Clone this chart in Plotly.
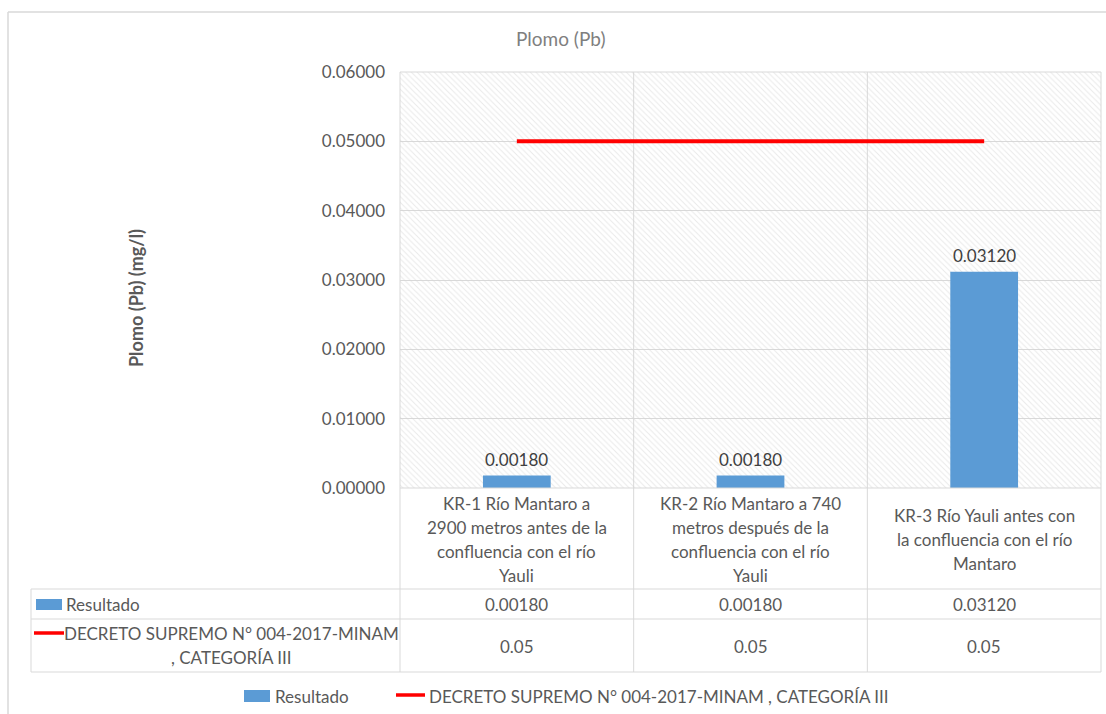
import plotly.graph_objects as go

# --- data -------------------------------------------------------------
categorias = [
    "KR-1 Río Mantaro a<br>2900 metros antes de la<br>confluencia con el río<br>Yauli",
    "KR-2 Río Mantaro a 740<br>metros después de la<br>confluencia con el río<br>Yauli",
    "KR-3 Río Yauli antes con<br>la confluencia con el río<br>Mantaro",
]
resultado = [0.00180, 0.00180, 0.03120]
limite_eca = [0.05, 0.05, 0.05]
serie_resultado = "Resultado"
serie_limite = "DECRETO SUPREMO N° 004-2017-MINAM , CATEGORÍA III"
serie_limite_tabla = "DECRETO SUPREMO N° 004-2017-MINAM<br>, CATEGORÍA III"
titulo = "Plomo (Pb)"
titulo_y = "Plomo (Pb) (mg/l)"
y_ticks = [0.0, 0.01, 0.02, 0.03, 0.04, 0.05, 0.06]

# --- layout constants (pixels) ---------------------------------------
W, H = 1106, 714
PL, PR, PT, PB = 400, 1101, 72, 488   # plot area edges
FONT = "Lato"
GRAY = "#595959"
GRID = "#d9d9d9"
BLUE = "#5b9bd5"
RED = "#ff0000"
FS = 17
LINE_H = 24

def px(x):
    return (x - PL) / (PR - PL)

def py(y):
    return (PB - y) / (PB - PT)

idx = list(range(len(categorias)))
y_min, y_max = y_ticks[0], y_ticks[-1]
n = len(categorias)

fig = go.Figure()

# hatched plot-area background (a full-width bar drawn first)
fig.add_trace(go.Bar(
    x=[(n - 1) / 2], y=[y_max], width=n, base=y_min,
    marker=dict(color="rgba(0,0,0,0)", line=dict(width=0),
                pattern=dict(shape="\\", fgcolor="#d4d4d4",
                             bgcolor="rgba(0,0,0,0)", size=4, solidity=0.25)),
    hoverinfo="skip", showlegend=False,
))

fig.add_trace(go.Bar(
    x=idx, y=resultado, name=serie_resultado, width=0.29,
    marker=dict(color=BLUE, line=dict(width=0)), showlegend=False,
))
fig.add_trace(go.Scatter(
    x=idx, y=limite_eca, name=serie_limite, mode="lines",
    line=dict(color=RED, width=4), showlegend=False,
))

shapes = []
ann = []

def text_lines(x, yc, txt, xref="paper", xanchor="center", size=FS, color=GRAY):
    lines = txt.split("<br>")
    for j, t in enumerate(lines):
        yy = yc + (j - (len(lines) - 1) / 2) * LINE_H
        ann.append(dict(x=x, y=py(yy), xref=xref, yref="paper", text=t,
                        showarrow=False, xanchor=xanchor, yanchor="middle",
                        font=dict(family=FONT, size=size, color=color)))

# data labels above bars
for i, v in zip(idx, resultado):
    ann.append(dict(x=i, y=v, xref="x", yref="y", text=f"{v:.5f}",
                    showarrow=False, yshift=16, xanchor="center",
                    font=dict(family=FONT, size=FS, color="#404040")))

# vertical category dividers running through the data table
for k in range(n + 1):
    xk = PL + k * (PR - PL) / n
    shapes.append(dict(type="line", xref="paper", yref="paper",
                       x0=px(xk), x1=px(xk), y0=py(672), y1=py(PT),
                       line=dict(color=GRID, width=1), layer="below"))

# table horizontal lines
for yy, x0 in [(PB, PL), (589, 31), (619, 31), (672, 31)]:
    shapes.append(dict(type="line", xref="paper", yref="paper",
                       x0=px(x0), x1=px(PR), y0=py(yy), y1=py(yy),
                       line=dict(color=GRID, width=1)))
shapes.append(dict(type="line", xref="paper", yref="paper",
                   x0=px(31), x1=px(31), y0=py(589), y1=py(672),
                   line=dict(color=GRID, width=1)))
# plot area top border
shapes.append(dict(type="line", xref="paper", yref="paper",
                   x0=px(PL), x1=px(PR), y0=py(PT), y1=py(PT),
                   line=dict(color=GRID, width=1)))

# chart frame
shapes.append(dict(type="line", xref="paper", yref="paper",
                   x0=px(8), x1=px(W), y0=py(12), y1=py(12),
                   line=dict(color=GRID, width=1.5)))
shapes.append(dict(type="line", xref="paper", yref="paper",
                   x0=px(8), x1=px(8), y0=py(12), y1=py(H),
                   line=dict(color=GRID, width=1.5)))

# table header: category names
for i, c in zip(idx, categorias):
    text_lines(i, 539, c, xref="x")

# table rows: values
for i, v in zip(idx, resultado):
    text_lines(i, 604, f"{v:.5f}", xref="x")
for i, v in zip(idx, limite_eca):
    text_lines(i, 646, f"{v:g}", xref="x")

# table rows: series keys and names
shapes.append(dict(type="rect", xref="paper", yref="paper",
                   x0=px(36), x1=px(62), y0=py(610), y1=py(599),
                   fillcolor=BLUE, line=dict(width=0)))
text_lines(px(64), 604, serie_resultado, xanchor="left")
shapes.append(dict(type="line", xref="paper", yref="paper",
                   x0=px(34), x1=px(64), y0=py(633), y1=py(633),
                   line=dict(color=RED, width=3.5)))
text_lines(px(231), 645.5, serie_limite_tabla)

# legend below the table
shapes.append(dict(type="rect", xref="paper", yref="paper",
                   x0=px(244), x1=px(270), y0=py(702), y1=py(690),
                   fillcolor=BLUE, line=dict(width=0)))
text_lines(px(273), 696, serie_resultado, xanchor="left")
shapes.append(dict(type="line", xref="paper", yref="paper",
                   x0=px(396), x1=px(425), y0=py(695), y1=py(695),
                   line=dict(color=RED, width=3.5)))
text_lines(px(427), 696, serie_limite, xanchor="left")

# title and y-axis title
text_lines(px(560), 38, titulo, size=19, color="#7f7f7f")
ann.append(dict(x=px(136), y=py(298), xref="paper", yref="paper",
                text=f"<b>{titulo_y}</b>", showarrow=False, textangle=-90,
                xanchor="center", yanchor="middle",
                font=dict(family=FONT, size=18, color=GRAY)))

fig.update_layout(
    width=W, height=H,
    margin=dict(l=PL, r=W - PR, t=PT, b=H - PB),
    paper_bgcolor="white", plot_bgcolor="white",
    font=dict(family=FONT, size=FS, color=GRAY),
    showlegend=False,
    barmode="overlay",
    xaxis=dict(range=[-0.5, n - 0.5], showticklabels=False, showgrid=False,
               zeroline=False, showline=False, fixedrange=True),
    yaxis=dict(range=[y_min, y_max], tickvals=y_ticks, tickformat=".5f",
               showgrid=True, gridcolor=GRID, gridwidth=1, zeroline=False,
               showline=False, ticks="", ticklabelstandoff=14,
               tickfont=dict(family=FONT, size=FS, color=GRAY)),
    shapes=shapes, annotations=ann,
)

fig.write_html("out.html")
